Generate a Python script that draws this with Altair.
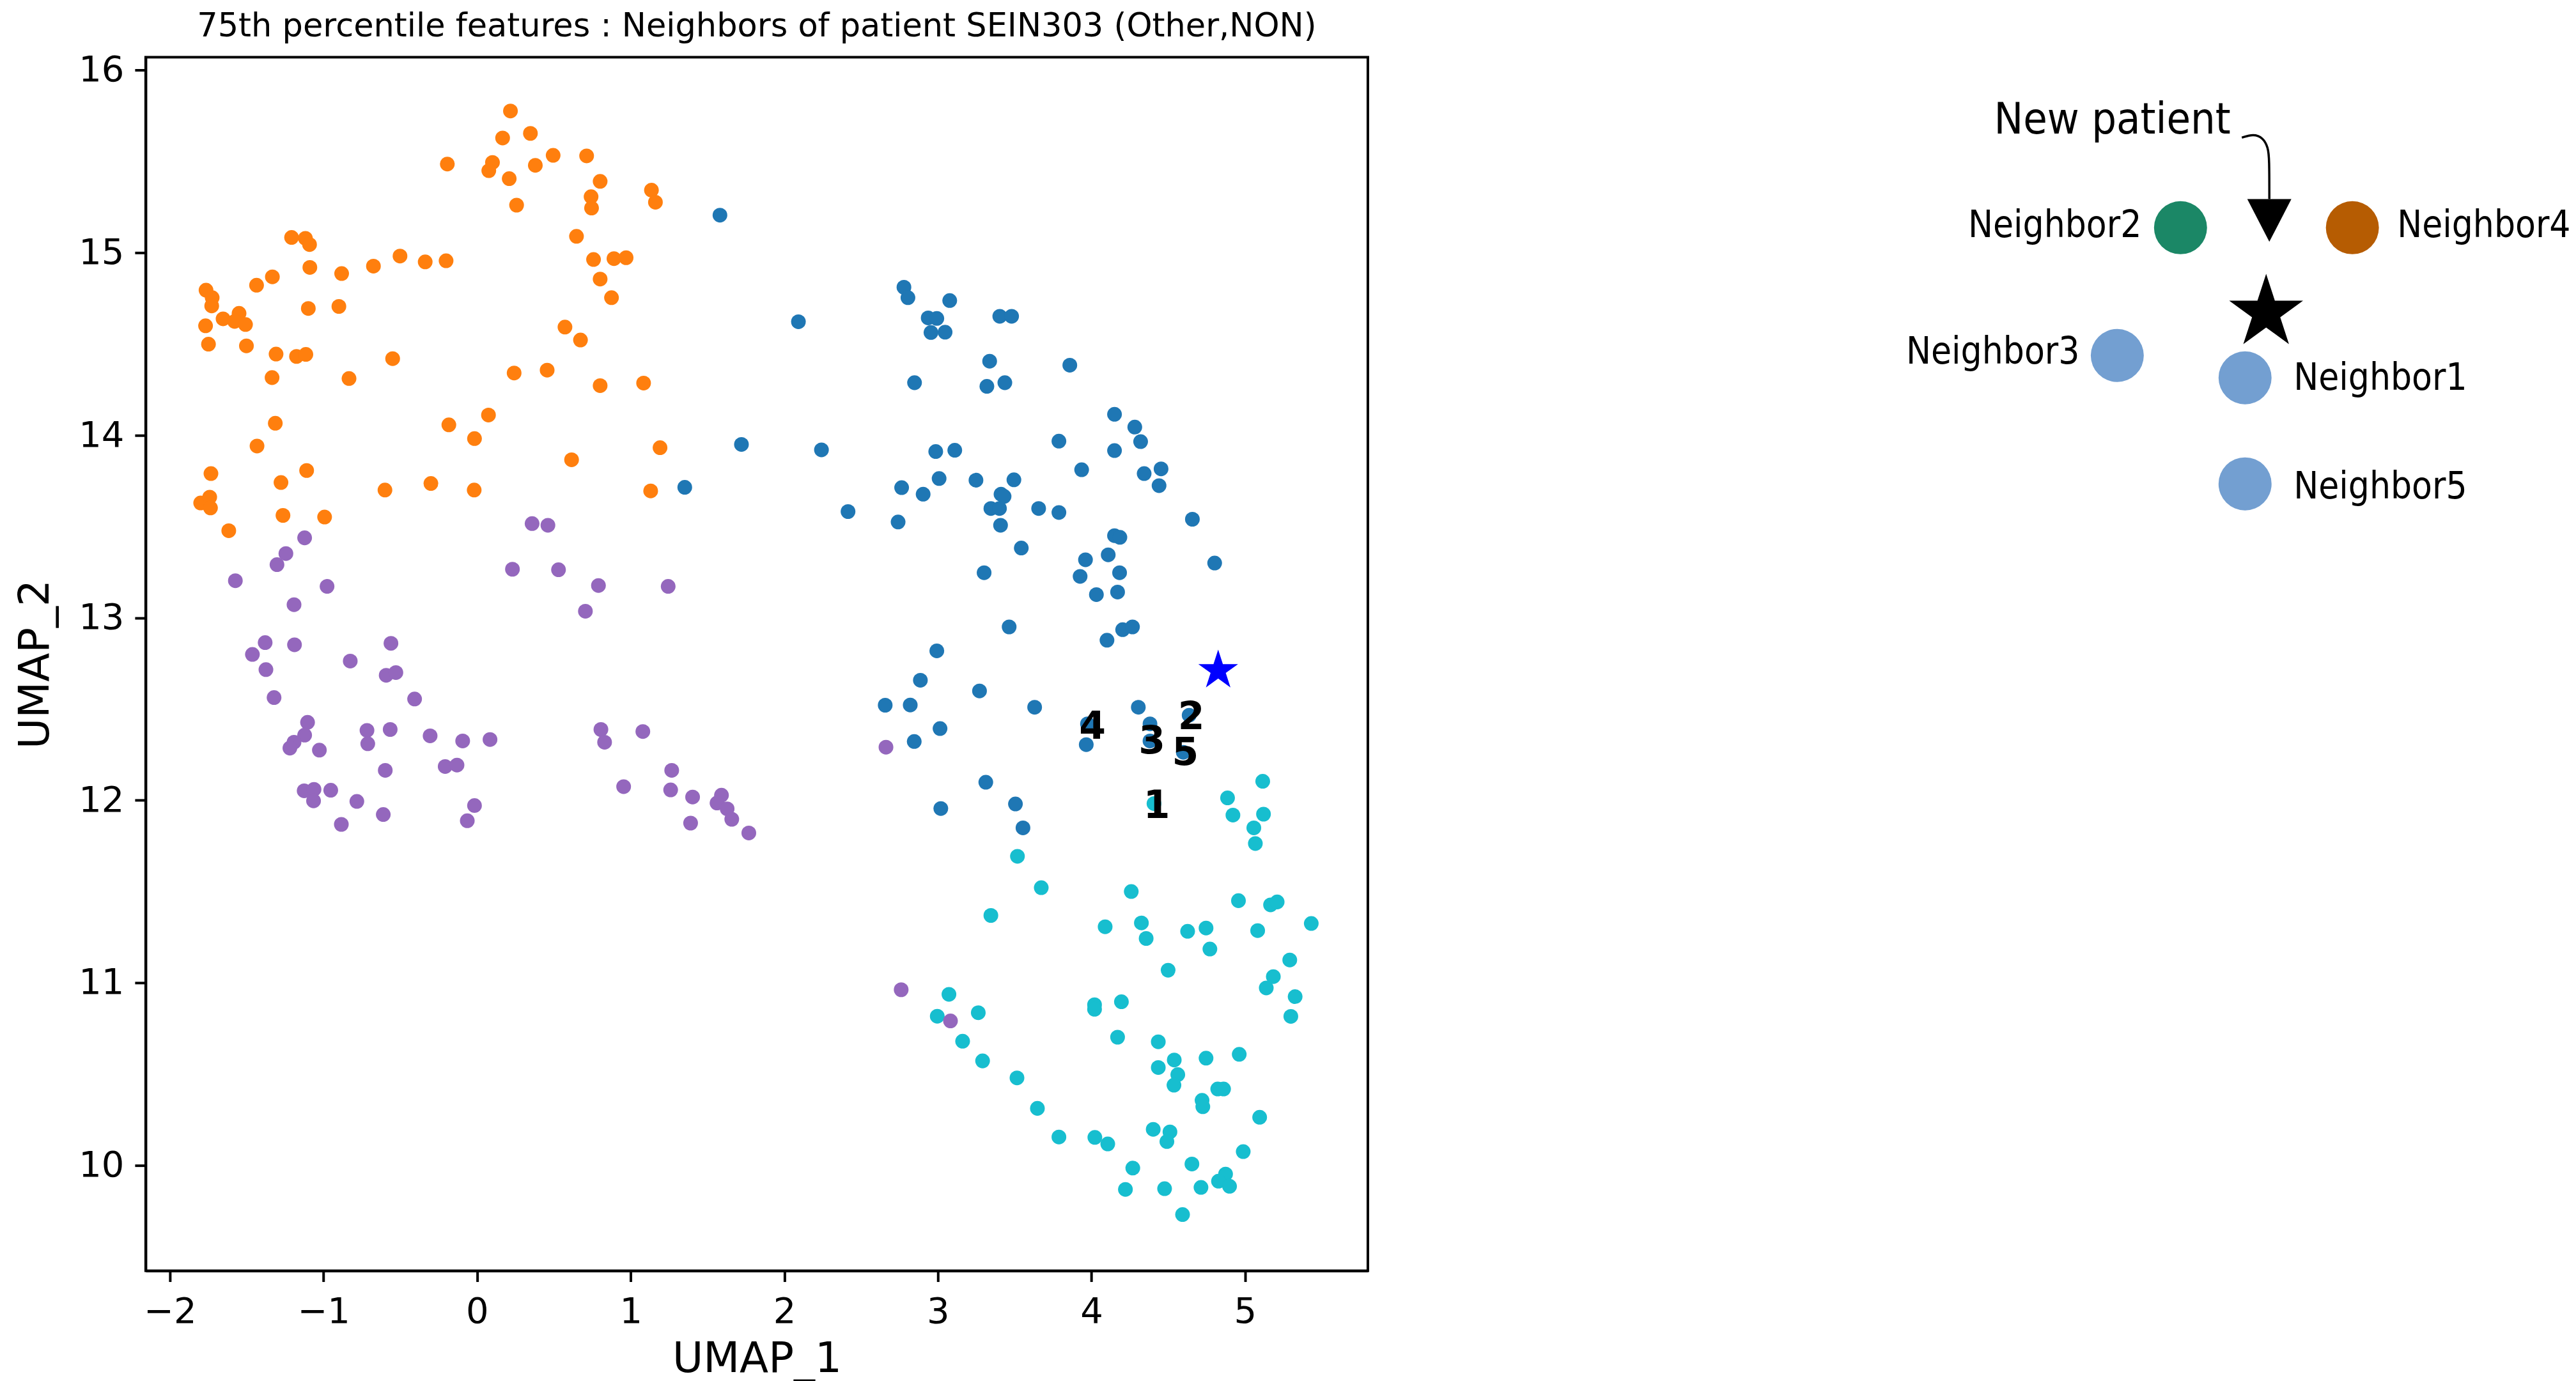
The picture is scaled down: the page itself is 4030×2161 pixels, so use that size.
import altair as alt
import pandas as pd

# ---------------- UMAP scatter data ----------------
blue_x = [1.581, 1.721, 1.352, 2.092, 2.779, 2.805, 3.077, 2.937, 2.993, 2.955, 3.047, 3.403, 3.480,
          3.337, 3.859, 2.848, 3.319, 3.436, 4.150, 4.282, 4.320, 3.788, 4.150, 2.242, 2.986, 3.110,
          3.936, 4.343, 4.453, 4.440, 2.764, 2.904, 3.008, 3.248, 3.495, 3.411, 3.431, 3.345, 3.401,
          3.656, 3.788, 2.415, 2.741, 3.408, 4.657, 4.150, 4.185, 3.543, 3.961, 4.109, 4.802, 3.301,
          3.926, 4.183, 4.032, 4.170, 3.464, 4.203, 4.267, 4.101, 2.993, 2.886, 3.271, 2.657, 2.820,
          3.630, 4.305, 4.381, 4.636, 3.014, 2.846, 3.966, 3.974, 4.381, 4.598, 3.312, 3.019, 3.505,
          3.554]
blue_y = [15.206, 13.950, 13.715, 14.622, 14.811, 14.754, 14.738, 14.643, 14.640, 14.563, 14.565,
          14.652, 14.652, 14.406, 14.384, 14.288, 14.268, 14.288, 14.115, 14.045, 13.965, 13.968,
          13.916, 13.920, 13.911, 13.918, 13.811, 13.790, 13.816, 13.724, 13.713, 13.677, 13.763,
          13.754, 13.756, 13.677, 13.665, 13.599, 13.599, 13.599, 13.577, 13.582, 13.525, 13.507,
          13.540, 13.450, 13.441, 13.382, 13.318, 13.345, 13.300, 13.247, 13.227, 13.247, 13.127,
          13.141, 12.950, 12.935, 12.950, 12.877, 12.819, 12.658, 12.599, 12.521, 12.522, 12.510,
          12.510, 12.419, 12.466, 12.393, 12.322, 12.305, 12.419, 12.325, 12.263, 12.099, 11.955,
          11.980, 11.849]

orange_x = [0.217, 0.166, 0.347, -0.194, 0.100, 0.076, 0.379, 0.495, 0.713, 0.209, 0.801, 1.135,
            1.161, 0.742, 0.745, 0.257, 0.647, 0.758, 0.891, 0.970, 0.801, 0.875, -1.208, -1.118,
            -1.091, -1.089, -0.882, -0.675, -0.502, -0.338, -0.202, -1.333, -1.436, -1.765, -1.725,
            -1.728, -1.550, -1.654, -1.579, -1.508, -1.768, -1.099, -0.900, -1.749, -1.502, -1.309,
            -1.176, -1.115, -0.550, -1.335, -0.834, 0.572, 0.673, 0.241, 0.456, 0.801, 1.084, 0.074,
            -0.184, -0.017, -1.314, -1.433, 1.191, 0.615, -1.733, -1.277, -1.110, -0.600, -0.301,
            -0.019, 1.130, -1.800, -1.741, -1.736, -1.264, -0.993, -1.617]
orange_y = [15.777, 15.629, 15.654, 15.486, 15.495, 15.450, 15.479, 15.534, 15.531, 15.406, 15.391,
            15.343, 15.277, 15.307, 15.245, 15.261, 15.090, 14.963, 14.968, 14.973, 14.856, 14.754,
            15.084, 15.079, 15.045, 14.920, 14.886, 14.927, 14.982, 14.950, 14.956, 14.868, 14.822,
            14.795, 14.754, 14.709, 14.668, 14.638, 14.624, 14.607, 14.600, 14.695, 14.706, 14.499,
            14.490, 14.445, 14.432, 14.443, 14.420, 14.316, 14.311, 14.593, 14.522, 14.341, 14.357,
            14.272, 14.286, 14.111, 14.057, 13.982, 14.066, 13.941, 13.932, 13.866, 13.790, 13.741,
            13.807, 13.700, 13.736, 13.700, 13.695, 13.629, 13.661, 13.602, 13.561, 13.552, 13.477]

cyan_x = [4.407, 5.115, 4.886, 4.921, 5.120, 5.057, 5.067, 3.518, 3.673, 4.259, 3.345, 4.957, 5.166,
          5.209, 4.089, 4.325, 4.356, 4.626, 4.746, 5.082, 5.431, 4.771, 5.291, 4.499, 5.184, 5.138,
          5.326, 5.298, 3.072, 2.996, 3.263, 3.161, 3.291, 3.515, 3.648, 4.020, 4.020, 4.195, 4.170,
          4.435, 4.539, 4.435, 4.562, 4.537, 4.746, 4.962, 4.822, 4.860, 4.720, 4.725, 5.095, 3.788,
          4.022, 4.106, 4.402, 4.511, 4.491, 4.988, 4.269, 4.654, 4.873, 4.827, 4.899, 4.221, 4.476,
          4.713, 4.593]
cyan_y = [11.982, 12.104, 12.013, 11.919, 11.924, 11.849, 11.763, 11.693, 11.521, 11.500, 11.369,
          11.450, 11.427, 11.443, 11.307, 11.328, 11.243, 11.282, 11.300, 11.286, 11.325, 11.185,
          11.125, 11.069, 11.034, 10.972, 10.924, 10.816, 10.937, 10.817, 10.836, 10.680, 10.572,
          10.479, 10.312, 10.880, 10.855, 10.896, 10.702, 10.677, 10.577, 10.536, 10.497, 10.439,
          10.587, 10.608, 10.418, 10.418, 10.356, 10.321, 10.263, 10.155, 10.153, 10.117, 10.197,
          10.183, 10.130, 10.075, 9.985, 10.007, 9.952, 9.913, 9.885, 9.868, 9.872, 9.879, 9.730]

purple_x = [0.358, 0.461, -1.123, -1.245, -1.303, -1.574, -0.977, -1.192, 0.230, 0.530, 0.790, 1.244,
            0.705, -1.380, -1.189, -1.463, -1.375, -0.826, -0.561, -0.592, -0.529, -1.322, -0.407,
            -1.104, -1.123, -1.192, -1.219, -1.027, -0.717, -0.712, -0.566, -0.306, -0.094, 0.084,
            -0.598, -0.208, -0.131, -1.126, -1.062, -1.065, -0.953, -0.783, -0.611, -0.884, -0.017,
            -0.064, 0.806, 0.830, 1.079, 1.267, 0.954, 1.260, 1.403, 1.591, 1.562, 1.628, 1.658,
            1.390, 1.769, 2.662, 2.761, 3.082]
purple_y = [13.516, 13.507, 13.438, 13.352, 13.291, 13.203, 13.172, 13.072, 13.266, 13.263, 13.177,
            13.172, 13.036, 12.864, 12.852, 12.799, 12.716, 12.763, 12.860, 12.685, 12.700, 12.563,
            12.555, 12.427, 12.357, 12.318, 12.286, 12.275, 12.383, 12.310, 12.388, 12.353, 12.325,
            12.333, 12.164, 12.185, 12.193, 12.052, 12.060, 11.997, 12.055, 11.994, 11.922, 11.868,
            11.971, 11.888, 12.388, 12.318, 12.377, 12.164, 12.075, 12.057, 12.018, 12.028, 11.985,
            11.953, 11.896, 11.875, 11.821, 12.291, 10.962, 10.791]

cluster_names = ["0", "1", "3", "2"]
cluster_colors = ["#1f77b4", "#ff7f0e", "#17becf", "#9467bd"]

# new patient (star) and the numbered neighbours
patient_x = [4.825]
patient_y = [12.711]
neighbor_labels = ["1", "2", "3", "4", "5"]
neighbor_x = [4.425, 4.649, 4.394, 4.007, 4.611]
neighbor_y = [11.966, 12.453, 12.318, 12.400, 12.255]

x_ticks = [-2, -1, 0, 1, 2, 3, 4, 5]
y_ticks = [10, 11, 12, 13, 14, 15, 16]

# ---------------- schematic on the right (diagram units) ----------------
diag_text = ["Neighbor2", "Neighbor4", "Neighbor3", "Neighbor1", "Neighbor5"]
diag_text_x = [443, 843, 346, 681, 681]
diag_text_y = [353, 353, 551, 592, 762]
diag_text_align = ["right", "left", "right", "left", "left"]
diag_dot_x = [504, 773, 405, 605, 605]
diag_dot_y = [338, 338, 538, 573, 739]
diag_dot_color = ["#1b8766", "#b65c02", "#739fd1", "#739fd1", "#739fd1"]
diag_title = ["New patient"]
diag_title_x = [212]
diag_title_y = [197]
diag_star_x = [638]
diag_star_y = [471]
arrow_x = [600, 618, 633, 641, 643, 643]
arrow_y = [197, 191, 197, 212, 230, 293]
arrow_head_x = [643]
arrow_head_y = [326.5]

STAR = ("M0,-1L0.2245,-0.309L0.951,-0.309L0.363,0.118L0.588,0.809L0,0.382"
        "L-0.588,0.809L-0.363,0.118L-0.951,-0.309L-0.2245,-0.309Z")
TRI_DOWN = "M-1,-0.97L1,-0.97L0,0.97Z"

rows = []
for name, xs, ys in [("0", blue_x, blue_y), ("1", orange_x, orange_y),
                     ("3", cyan_x, cyan_y), ("2", purple_x, purple_y)]:
    for a, b in zip(xs, ys):
        rows.append({"UMAP_1": a, "UMAP_2": b, "cluster": name})
df = pd.DataFrame(rows)
df["order"] = range(len(df))

FONT = "DejaVu Sans"
xscale = alt.Scale(domain=[-2.158, 5.7995], nice=False, zero=False)
yscale = alt.Scale(domain=[9.422, 16.0716], nice=False, zero=False)

xaxis = alt.Axis(values=x_ticks, grid=False, title="UMAP_1", format="d",
                 labelFont=FONT, labelFontSize=56, labelColor="black", labelPadding=20,
                 titleFont=FONT, titleFontSize=66, titleFontWeight="normal", titleColor="black",
                 titlePadding=14, tickSize=17, tickWidth=4, tickColor="black",
                 domainColor="black", domainWidth=4, labelFlush=False, labelOverlap=False)
yaxis = alt.Axis(values=y_ticks, grid=False, title="UMAP_2", format="d",
                 labelFont=FONT, labelFontSize=56, labelColor="black", labelPadding=17,
                 titleFont=FONT, titleFontSize=66, titleFontWeight="normal", titleColor="black",
                 titlePadding=33, tickSize=17, tickWidth=4, tickColor="black",
                 domainColor="black", domainWidth=4, labelFlush=False, labelOverlap=False)

points = alt.Chart(df).mark_circle(size=530, opacity=1).encode(
    x=alt.X("UMAP_1:Q", scale=xscale, axis=xaxis),
    y=alt.Y("UMAP_2:Q", scale=yscale, axis=yaxis),
    color=alt.Color("cluster:N", scale=alt.Scale(domain=cluster_names, range=cluster_colors),
                    legend=None),
    order="order:Q",
)

star = alt.Chart(pd.DataFrame({"x": patient_x, "y": patient_y})).mark_point(
    shape=STAR, size=4277, filled=True, color="#0000ff", opacity=1
).encode(x=alt.X("x:Q", scale=xscale), y=alt.Y("y:Q", scale=yscale))

nums = alt.Chart(pd.DataFrame({"x": neighbor_x, "y": neighbor_y, "t": neighbor_labels})).mark_text(
    font=FONT, fontSize=60, fontWeight="bold", color="black", align="center", baseline="middle"
).encode(x=alt.X("x:Q", scale=xscale), y=alt.Y("y:Q", scale=yscale), text="t:N")

main = alt.layer(points, star, nums).properties(
    width=1913, height=1900,
    title=alt.TitleParams("75th percentile features : Neighbors of patient SEIN303 (Other,NON)",
                          font=FONT, fontSize=51, fontWeight="normal", color="black",
                          anchor="middle", offset=14),
    view=alt.ViewBackground(stroke="black", strokeWidth=4),
)

# ---------------- diagram chart ----------------
dx = alt.Scale(domain=[0, 1060], nice=False, zero=False)
dy = alt.Scale(domain=[71, 831], nice=False, zero=False, reverse=True)
noax = None
DFONT = "DejaVu Sans Condensed, Liberation Sans Narrow, DejaVu Sans"

d_text = pd.DataFrame({"x": diag_text_x, "y": diag_text_y, "t": diag_text, "a": diag_text_align})
txt_right = alt.Chart(d_text[d_text.a == "right"]).mark_text(
    font=DFONT, fontSize=58, color="black", align="right", baseline="alphabetic"
).encode(x=alt.X("x:Q", scale=dx, axis=noax), y=alt.Y("y:Q", scale=dy, axis=noax), text="t:N")
txt_left = alt.Chart(d_text[d_text.a == "left"]).mark_text(
    font=DFONT, fontSize=58, color="black", align="left", baseline="alphabetic"
).encode(x=alt.X("x:Q", scale=dx, axis=noax), y=alt.Y("y:Q", scale=dy, axis=noax), text="t:N")
title_txt = alt.Chart(pd.DataFrame({"x": diag_title_x, "y": diag_title_y, "t": diag_title})).mark_text(
    font=DFONT, fontSize=68, color="black", align="left", baseline="alphabetic", dy=-6
).encode(x=alt.X("x:Q", scale=dx, axis=noax), y=alt.Y("y:Q", scale=dy, axis=noax), text="t:N")
dots = alt.Chart(pd.DataFrame({"x": diag_dot_x, "y": diag_dot_y, "c": diag_dot_color})).mark_circle(
    size=6889, opacity=1
).encode(x=alt.X("x:Q", scale=dx, axis=noax), y=alt.Y("y:Q", scale=dy, axis=noax),
         color=alt.Color("c:N", scale=None))
dstar = alt.Chart(pd.DataFrame({"x": diag_star_x, "y": diag_star_y})).mark_point(
    shape=STAR, size=14787, filled=True, color="black", opacity=1
).encode(x=alt.X("x:Q", scale=dx, axis=noax), y=alt.Y("y:Q", scale=dy, axis=noax))
arrow = alt.Chart(pd.DataFrame({"x": arrow_x, "y": arrow_y, "o": list(range(len(arrow_x)))})).mark_line(
    color="black", strokeWidth=3.5, interpolate="basis"
).encode(x=alt.X("x:Q", scale=dx, axis=noax), y=alt.Y("y:Q", scale=dy, axis=noax), order="o:Q")
head = alt.Chart(pd.DataFrame({"x": arrow_head_x, "y": arrow_head_y})).mark_point(
    shape=TRI_DOWN, size=4761, filled=True, color="black", opacity=1
).encode(x=alt.X("x:Q", scale=dx, axis=noax), y=alt.Y("y:Q", scale=dy, axis=noax))

diagram = alt.layer(arrow, head, title_txt, txt_right, txt_left, dots, dstar).properties(
    width=1060, height=760, view=alt.ViewBackground(strokeOpacity=0)
)

chart = alt.hconcat(main, diagram, spacing=766).properties(
    padding={"left": 12, "top": 5, "right": 0, "bottom": 0}, background="white"
)

chart.save("out.html", embed_options={"renderer": "svg", "actions": False})
